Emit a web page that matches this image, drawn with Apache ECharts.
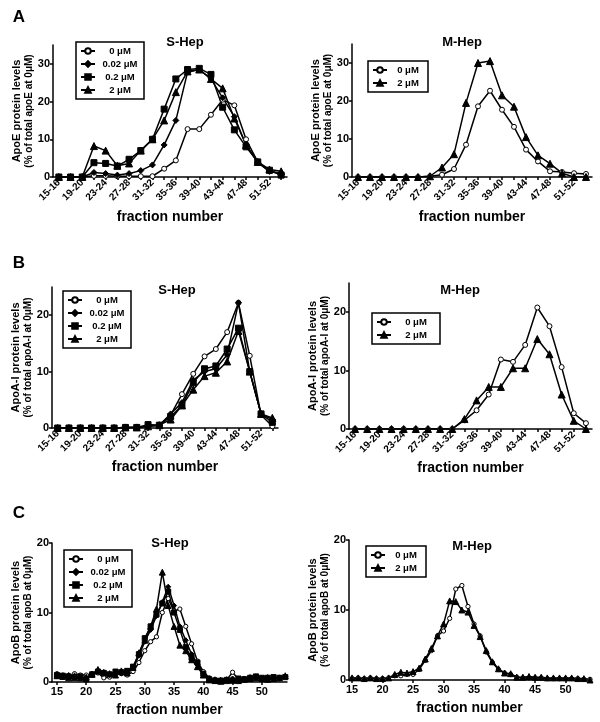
<!DOCTYPE html>
<html><head><meta charset="utf-8">
<script src="https://cdn.jsdelivr.net/npm/echarts@6/dist/echarts.min.js"></script>
<style>html,body{margin:0;padding:0;background:#fff}#c{width:600px;height:722px}</style>
</head><body><div id="c"></div>
<script>
// ---------- data ----------
const pairCats = ['15-16','17-18','19-20','21-22','23-24','25-26','27-28','29-30','31-32','33-34','35-36','37-38','39-40','41-42','43-44','45-46','47-48','49-50','51-52','53-54'];
const fractions = [15,16,17,18,19,20,21,22,23,24,25,26,27,28,29,30,31,32,33,34,35,36,37,38,39,40,41,42,43,44,45,46,47,48,49,50,51,52,53,54];
const xTicksC = [15,20,25,30,35,40,45,50];
const yTicksE = [0,10,20,30];
const yTicksA = [0,10,20];
const yTicksB = [0,10,20];
const doses4 = ['0 μM','0.02 μM','0.2 μM','2 μM'];
const doses2 = ['0 μM','2 μM'];

// ApoE, S-Hep
const apoE_S_0   = [0,0,0,0.3,0.3,0.2,0.2,0.2,0.2,2.2,4.4,12.7,12.7,16.5,20.5,19,10,4,1.5,0.8];
const apoE_S_002 = [0,0,0,1.2,0.9,0.5,0.9,1.7,3.2,8.5,15,27.8,28.5,26,21,16,8.5,3.8,1.5,1.0];
const apoE_S_02  = [0,0,0,3.8,3.6,2.9,4.7,7,10,18,26,28.5,28.8,27.2,18.5,12.5,8,4,1.8,0.5];
const apoE_S_2   = [0,0,0,8.2,7,3,3.6,7,10,15,22.5,28,28.5,26,23.5,15.5,8.5,4,2,1.5];
// ApoE, M-Hep
const apoE_M_0 = [0,0,0,0,0,0,0.2,0.6,2.1,8.5,18.6,22.7,17.7,13.2,7.2,4.1,1.5,1.3,1.0,0.8];
const apoE_M_2 = [0,0,0,0,0,0,0.2,2.5,6,19.5,30,30.5,21.5,18.5,10.5,5.7,3.5,1.0,0,0];
// ApoA-I, S-Hep
const apoA_S_0   = [0,0,0,0,0,0,0.1,0.1,0.3,0.5,2.3,6,9.6,12.7,14,17,22.2,12.8,2.3,0.3];
const apoA_S_002 = [0,0,0,0,0,0,0.1,0.1,0.4,0.5,2.5,4.5,8.5,10,10.5,13,22.2,10,2.5,1.5];
const apoA_S_02  = [0,0,0,0,0,0,0.1,0.1,0.6,0.5,2,4,8,10.5,11,14,17.7,10,2.5,1.0];
const apoA_S_2   = [0,0,0,0,0,0,0.1,0.1,0.3,0.5,1.5,4,6.8,9.2,9.8,11.8,17.2,10,2.5,1.8];
// ApoA-I, M-Hep
const apoA_M_0 = [0,0,0,0,0,0,0,0,0,1.5,3.2,5.9,11.9,11.5,14.4,20.8,17.6,10.6,2.7,1.0];
const apoA_M_2 = [0,0,0,0,0,0,0,0,0,1.7,4.9,7.2,7.2,10.4,10.4,15.4,12.8,5.9,1.4,0];
// ApoB, S-Hep (fractions 15..54)
const apoB_S_0   = [1.2,1.0,0.7,1.2,1.0,1.0,1.2,1.3,0.6,0.7,1.1,1.2,1.0,1.5,2.8,4.5,5.8,6.5,10,12,10.2,10.5,8,5.5,3,1.5,0.6,0.4,0.2,0.3,1.4,0.4,0.3,0.5,0.6,0.5,0.6,0.5,0.6,0.8];
const apoB_S_002 = [0.8,0.7,1.0,0.8,0.5,0.6,1.0,1.6,1.2,1.0,1.3,1.3,1.5,2.0,3.8,5.8,7.5,9.5,11.5,13.7,11,8,6,4,2.5,1.2,0.5,0.3,0.3,0.4,0.5,0.3,0.5,0.7,0.6,0.5,0.7,0.6,0.5,0.8];
const apoB_S_02  = [1.0,0.9,0.8,0.6,0.8,0.4,1.1,1.5,1.3,1.1,1.5,1.4,1.6,2.2,4.0,6.3,8,9.7,11.3,13,10,7.5,5,3.5,2.8,1.2,0.4,0.2,0.2,0.3,0.2,0.5,0.4,0.6,0.8,0.6,0.6,0.7,0.6,0.7];
const apoB_S_2   = [0.9,0.8,0.6,0.9,0.6,0.7,1.1,1.8,1.4,1.2,1.0,1.6,1.3,2.1,4.2,6.0,8.0,10.5,15.8,11.0,8.0,5.3,4.5,3.2,2.2,1.0,0.3,0.2,0.1,0.2,0.3,0.2,0.4,0.5,0.6,0.5,0.4,0.5,0.6,0.9];
// ApoB, M-Hep
const apoB_M_0 = [0.2,0.3,0.2,0.3,0.2,0.2,0.3,0.6,0.6,0.8,0.8,1.5,2.8,4.2,6.3,7.0,8.8,13.0,13.5,10.5,8.0,6.3,4.0,2.5,1.5,1.0,0.8,0.4,0.3,0.3,0.3,0.3,0.2,0.2,0.2,0.2,0.2,0.2,0.1,0.1];
const apoB_M_2 = [0.3,0.3,0.2,0.3,0.2,0.2,0.3,0.8,1.1,1.0,1.2,1.7,3.0,4.5,6.3,8.0,11.3,11.2,10.0,9.7,7.8,6.2,4.2,2.6,1.6,1.0,0.9,0.4,0.4,0.5,0.4,0.4,0.3,0.3,0.3,0.3,0.3,0.2,0.2,0.0];

// ---------- styling / build ----------
const FONT = '"Liberation Sans", Arial, Helvetica, sans-serif';
const symbolFor = {
  '0 μM':    {symbol:'circle',   size:5, fill:'#fff'},
  '0.02 μM': {symbol:'diamond',  size:6, fill:'#000'},
  '0.2 μM':  {symbol:'rect',     size:6, fill:'#000'},
  '2 μM':    {symbol:'triangle', size:7, fill:'#000'}
};
function mkSeries(name, idx, data, sizeScale){
  const s = symbolFor[name];
  return {
    type:'line', name, xAxisIndex:idx, yAxisIndex:idx, data,
    symbol:s.symbol, symbolSize:s.size*(sizeScale||1), showAllSymbol:true,
    itemStyle:{color:s.fill, borderColor:'#000', borderWidth:1},
    lineStyle:{color:'#000', width:1.5}, emphasis:{disabled:true}, silent:true, z: 2
  };
}
function pairs(vals){ return fractions.map((f,i)=>[f, vals[i]]); }

const grids = [
  {left:53,  top:45,  width:234, height:132},
  {left:352, top:44,  width:240, height:133},
  {left:52,  top:287, width:226, height:141},
  {left:349, top:283, width:243, height:146},
  {left:52,  top:543, width:235, height:139},
  {left:349, top:540, width:241, height:140}
];
const axisLineStyle = {show:true, lineStyle:{color:'#000', width:1.5}};
function catX(idx, gap){
  return {type:'category', gridIndex:idx, data:pairCats, boundaryGap:true,
    axisLine:axisLineStyle,
    axisTick:{show:true, alignWithLabel:true, interval:0, length:3, lineStyle:{color:'#000', width:1.5}},
    axisLabel:{interval:1, rotate:45, fontSize:10, fontWeight:'bold', fontFamily:FONT, color:'#000', margin:4},
    splitLine:{show:false},
    name:'fraction number', nameLocation:'middle', nameGap:gap, nameMoveOverlap:false,
    nameTextStyle:{fontSize:14, fontWeight:'bold', fontFamily:FONT, color:'#000', verticalAlign:'top'}};
}
function valX(idx, min, max){
  return {type:'value', gridIndex:idx, min, max,
    axisLine:axisLineStyle,
    axisTick:{show:true, customValues:xTicksC, length:3, lineStyle:{color:'#000', width:1.5}},
    axisLabel:{customValues:xTicksC, fontSize:11, fontWeight:'bold', fontFamily:FONT, color:'#000', margin:4},
    splitLine:{show:false},
    name:'fraction number', nameLocation:'middle', nameGap:21, nameMoveOverlap:false,
    nameTextStyle:{fontSize:14, fontWeight:'bold', fontFamily:FONT, color:'#000', verticalAlign:'top'}};
}
function valY(idx, max, ticks, l1, l2){
  return {type:'value', gridIndex:idx, min:0, max,
    axisLine:axisLineStyle,
    axisTick:{show:true, customValues:ticks, length:3, lineStyle:{color:'#000', width:1.5}},
    axisLabel:{customValues:ticks, fontSize:11, fontWeight:'bold', fontFamily:FONT, color:'#000', margin:3},
    splitLine:{show:false},
    name:'{a|'+l1+'}\n{b|'+l2+'}', nameLocation:'middle', nameGap:18, nameRotate:90, nameMoveOverlap:false,
    nameTextStyle:{fontFamily:FONT, color:'#000', verticalAlign:'bottom',
      rich:{a:{fontSize:11, fontWeight:'bold', fontFamily:FONT, color:'#000', lineHeight:13, align:'center'},
            b:{fontSize:10, fontWeight:'bold', fontFamily:FONT, color:'#000', lineHeight:12, align:'center'}}}};
}
function mkLegend(names, left, top, textW){
  return {data:names, orient:'vertical', left, top, padding:[4,4,4,4], itemGap:3,
    itemWidth:14, itemHeight:7, borderColor:'#000', borderWidth:1.5, backgroundColor:'#fff',
    selectedMode:false, inactiveColor:'#000',
    formatter:n=>'{c|'+n+'}',
    textStyle:{rich:{c:{width:textW, align:'center', fontSize:9.5, fontWeight:'bold', fontFamily:FONT, color:'#000', lineHeight:12}}}};
}
function txt(text, x, y, size){
  return {type:'text', x, y, silent:true, z:10,
    style:{text, font:'bold '+size+'px '+FONT, fill:'#000', textAlign:'center', textVerticalAlign:'middle'}};
}

const series = [
  mkSeries('0 μM',0,apoE_S_0), mkSeries('0.02 μM',0,apoE_S_002), mkSeries('0.2 μM',0,apoE_S_02), mkSeries('2 μM',0,apoE_S_2),
  mkSeries('0 μM',1,apoE_M_0), mkSeries('2 μM',1,apoE_M_2),
  mkSeries('0 μM',2,apoA_S_0), mkSeries('0.02 μM',2,apoA_S_002), mkSeries('0.2 μM',2,apoA_S_02), mkSeries('2 μM',2,apoA_S_2),
  mkSeries('0 μM',3,apoA_M_0), mkSeries('2 μM',3,apoA_M_2),
  mkSeries('0 μM',4,pairs(apoB_S_0),0.85), mkSeries('0.02 μM',4,pairs(apoB_S_002),0.85), mkSeries('0.2 μM',4,pairs(apoB_S_02),0.85), mkSeries('2 μM',4,pairs(apoB_S_2),0.85),
  mkSeries('0 μM',5,pairs(apoB_M_0),0.85), mkSeries('2 μM',5,pairs(apoB_M_2),0.85)
];

const option = {
  animation:false, backgroundColor:'#fff',
  grid:grids,
  xAxis:[catX(0,33), catX(1,33), catX(2,32), catX(3,32), valX(4,14.15,54.3), valX(5,14.5,54)],
  yAxis:[
    valY(0,35,yTicksE,'ApoE protein levels','(% of total apoE at 0μM)'),
    valY(1,35,yTicksE,'ApoE protein levels','(% of total apoE at 0μM)'),
    valY(2,25,yTicksA,'ApoA-I protein levels','(% of total apoA-I at 0μM)'),
    valY(3,25,yTicksA,'ApoA-I protein levels','(% of total apoA-I at 0μM)'),
    valY(4,20,yTicksB,'ApoB protein levels','(% of total apoB at 0μM)'),
    valY(5,20,yTicksB,'ApoB protein levels','(% of total apoB at 0μM)')
  ],
  legend:[
    mkLegend(doses4,76,42,40), mkLegend(doses2,368,61,32),
    mkLegend(doses4,63,291,40), mkLegend(doses2,372,313,40),
    mkLegend(doses4,64,550,40), mkLegend(doses2,366,546,32)
  ],
  graphic:[
    txt('A',19,17,17), txt('B',19,263,17), txt('C',19,513,17),
    txt('S-Hep',185,42,13), txt('M-Hep',462,42,13),
    txt('S-Hep',177,290,13), txt('M-Hep',460,290,13),
    txt('S-Hep',170,543,13), txt('M-Hep',472,546,13)
  ],
  series
};
const chart = echarts.init(document.getElementById('c'), null, {renderer:'canvas'});
chart.setOption(option);
</script></body></html>
